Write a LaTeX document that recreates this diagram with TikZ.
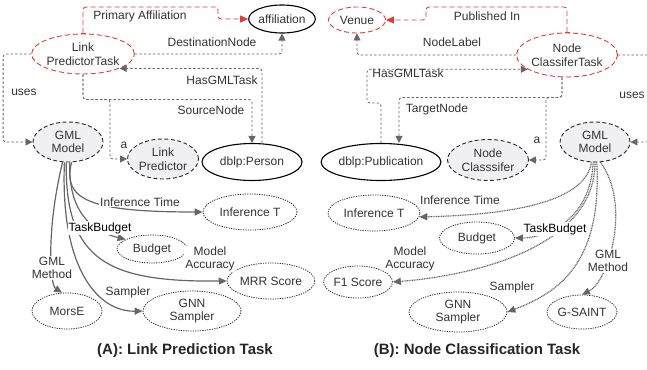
\documentclass[tikz,border=0pt]{standalone}
\usepackage{fontspec}
\setmainfont{Liberation Sans}
\usetikzlibrary{arrows.meta,shapes.geometric}
\definecolor{edgegray}{HTML}{666666}
\definecolor{txtgray}{HTML}{333333}
\definecolor{taskred}{HTML}{E53935}
\definecolor{nodefill}{HTML}{F0F0F2}

\begin{document}
\begin{tikzpicture}[x=1pt,y=-1pt,
		font=\fontsize{12}{13.5}\selectfont,
		every node/.style={text=txtgray,inner sep=0pt},
		ell/.style={ellipse,align=center},
		solidell/.style={ell,draw=black,line width=1.1pt},
		taskell/.style={ell,draw=taskred,line width=0.9pt,dash pattern=on 5pt off 3pt},
		gmlell/.style={ell,draw=black!85,fill=nodefill,line width=0.9pt,dash pattern=on 4pt off 2.5pt},
		valell/.style={ell,draw=black!85,line width=0.8pt,dash pattern=on 1.2pt off 1.2pt},
		conn/.style={draw=edgegray,line width=0.8pt,dash pattern=on 2.5pt off 2pt,rounded corners=3pt,
			-{Triangle[length=7pt,width=7pt]}},
		redconn/.style={draw=taskred,line width=0.9pt,dash pattern=on 5pt off 3pt,rounded corners=3pt,
			{Bar[width=5pt]}-{Triangle[length=8pt,width=7pt]}},
		propA/.style={draw=edgegray,line width=1.2pt,-{Triangle[length=8pt,width=7pt]}},
		propB/.style={draw=edgegray,line width=1.2pt,dash pattern=on 1pt off 0.7pt,-{Triangle[length=8pt,width=7pt]}},
		lbl/.style={fill=white,align=center,inner sep=1pt},
		caption/.style={text=black!85,font=\fontsize{15}{18}\selectfont\bfseries}]
		%%%%% START %%%%%
		\useasboundingbox (0,0) rectangle (647,369);
		
		% (A) link prediction
		\node[solidell,minimum width=63,minimum height=28] (aff) at (282,19) {affiliation};
		\node[taskell,minimum width=100,minimum height=40] (lpt) at (83,54) {Link\\PredictorTask};
		\node[gmlell,minimum width=70,minimum height=40] (gmlA) at (68,142) {GML\\Model};
		\node[gmlell,minimum width=71,minimum height=40] (lpred) at (163,159) {Link\\Predictor};
		\node[solidell,minimum width=100,minimum height=37] (person) at (252,162) {dblp:Person};
		\node[valell,minimum width=94,minimum height=36] (infA) at (250,212) {Inference T};
		\node[valell,minimum width=70,minimum height=28] (budA) at (152,249) {Budget};
		\node[valell,minimum width=72,minimum height=36] (mrr) at (271,281) {MRR Score};
		\node[valell,minimum width=70,minimum height=36] (morse) at (67,311) {MorsE};
		\node[valell,minimum width=98,minimum height=40] (gnnA) at (192,311) {GNN\\Sampler};
		
		\draw[redconn] (lpt.north) |- (218,7) |- (aff.west);
		\draw[conn] (lpt.east) -| (aff.south);
		\draw[conn] ([xshift=10pt]person.north) |- (lpt.south east);
		\draw[conn] (lpt.south) -- ++(0,25) -| (person.north);
		\draw[conn] (lpt.south) -- ++(0,25) -- ++(27,0) |- (lpred.west);
		\draw[conn] (lpt.west) -- ++(-28,0) |- (gmlA.west);
		
		\draw[propA] (gmlA.-80) .. controls (62,200) and (90,212) .. (infA.west);
		\draw[propA] (gmlA.-85) .. controls (68,215) and (95,232) .. (budA.160);
		\draw[propA] (gmlA.-95) .. controls (65,262) and (110,282) .. (mrr.west);
		\draw[propA] (gmlA.-100) .. controls (60,272) and (100,312) .. (gnnA.west);
		\draw[propA] (gmlA.-105) .. controls (46,230) and (50,285) .. (morse.105);
		
		\node (lPA) at (140,16) {Primary Affiliation};
		\node (lDest) at (212,42) {DestinationNode};
		\node (lHasA) at (222,80) {HasGMLTask};
		\node (lSrc) at (211,110) {SourceNode};
		\node (lUsesA) at (24,92) {uses};
		\node (lAA) at (124,145) {a};
		\node[lbl] (lInfA) at (140,202) {Inference Time};
		\node[lbl,text=black] (lBudA) at (100,228) {TaskBudget};
		\node[lbl] (lAccA) at (210,259) {Model\\Accuracy};
		\node[lbl] (lMethA) at (52,268) {GML\\Method};
		\node[lbl] (lSampA) at (128,292) {Sampler};
		
		\node[caption] (capA) at (185,351) {(A): Link Prediction Task};
		
		% (B) node classification
		\node[taskell,minimum width=57,minimum height=26] (venue) at (357,20) {Venue};
		\node[taskell,minimum width=98,minimum height=44] (nct) at (567,55) {Node\\ClassiferTask};
		\node[solidell,minimum width=115,minimum height=37] (pub) at (381,162) {dblp:Publication};
		\node[gmlell,minimum width=81,minimum height=41] (ncl) at (488,160) {Node\\Classsifer};
		\node[gmlell,minimum width=70,minimum height=40] (gmlB) at (595,142) {GML\\Model};
		\node[valell,minimum width=92,minimum height=36] (infB) at (374,213) {Inference T};
		\node[valell,minimum width=75,minimum height=32] (budB) at (477,238) {Budget};
		\node[valell,minimum width=68,minimum height=32] (f1) at (358,282) {F1 Score};
		\node[valell,minimum width=98,minimum height=40] (gnnB) at (458,312) {GNN\\Sampler};
		\node[valell,minimum width=70,minimum height=34] (gsaint) at (582,312) {G-SAINT};
		
		\draw[redconn] (nct.north) |- (426,7) |- (venue.east);
		\draw[conn] (nct.west) -| (venue.south);
		\draw[conn] (pub.north) |- ++(-14,-40) |- (nct.200);
		\draw[conn] ([xshift=-5pt]nct.south) -- ++(0,20) -| ([xshift=18pt]pub.north);
		\draw[conn] ([xshift=-5pt]nct.south) -- ++(0,20) -- ++(-16,0) |- (ncl.east);
		\draw[conn] (nct.east) -- ++(36,0) |- (gmlB.east);
		
		\draw[propB] (gmlB.-100) .. controls (585,205) and (500,215) .. (infB.-5);
		\draw[propB] (gmlB.-95) .. controls (590,225) and (540,238) .. (budB.east);
		\draw[propB] (gmlB.-90) .. controls (595,245) and (480,275) .. (f1.east);
		\draw[propB] (gmlB.-85) .. controls (602,262) and (560,292) .. (gnnB.east);
		\draw[propB] (gmlB.-75) .. controls (632,205) and (608,282) .. (gsaint.north);
		
		\node (lPub) at (487,16) {Published In};
		\node (lLab) at (452,42) {NodeLabel};
		\node (lHasB) at (408,73) {HasGMLTask};
		\node (lTgt) at (437,109) {TargetNode};
		\node (lUsesB) at (632,95) {uses};
		\node (lAB) at (537,140) {a};
		\node[lbl] (lInfB) at (460,200) {Inference Time};
		\node[lbl,text=black] (lBudB) at (555,229) {TaskBudget};
		\node[lbl] (lAccB) at (410,259) {Model\\Accuracy};
		\node[lbl] (lMethB) at (608,261) {GML\\Method};
		\node[lbl] (lSampB) at (512,287) {Sampler};
		
		\node[caption] (capB) at (477,351) {(B): Node Classification Task};
		%%%%% END %%%%%
	\end{tikzpicture}
\end{document}
